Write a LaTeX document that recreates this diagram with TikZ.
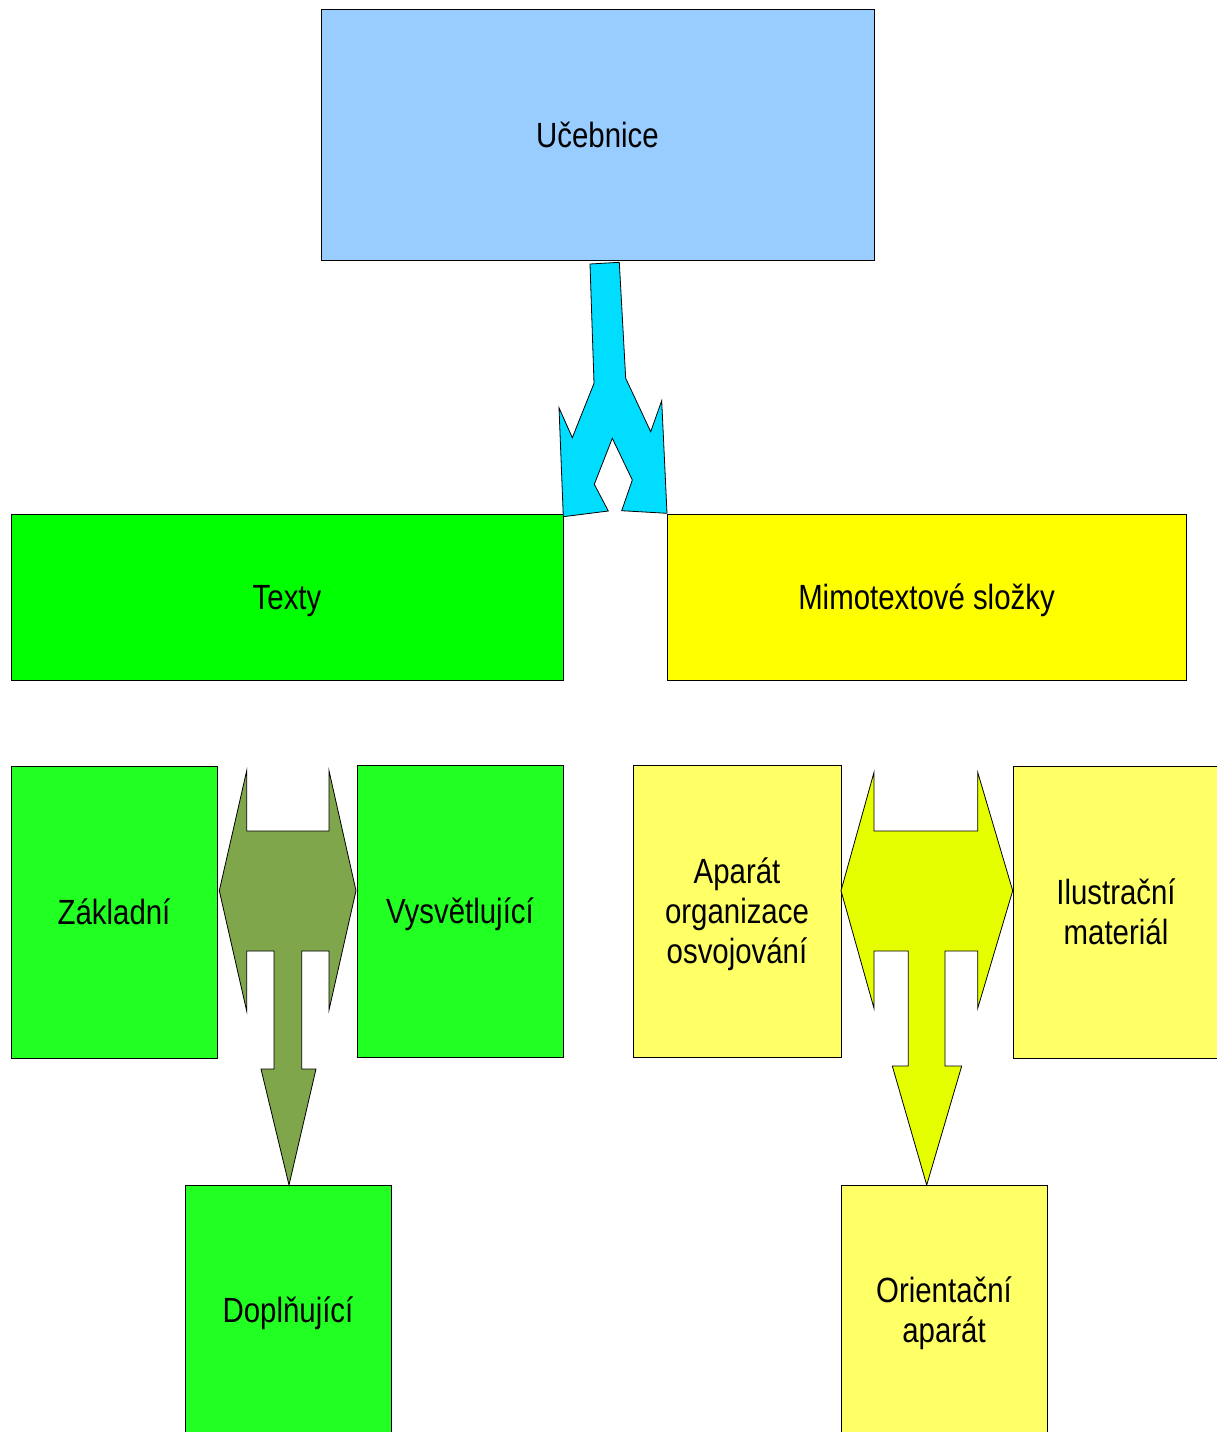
\documentclass[tikz,border=0pt]{standalone}
\usepackage{fontspec}
\setmainfont{Liberation Sans}[FakeStretch=0.84]
\definecolor{blueBox}{HTML}{99CCFF}
\definecolor{greenBig}{HTML}{00FF00}
\definecolor{yellowBig}{HTML}{FFFF00}
\definecolor{greenSmall}{HTML}{22FF22}
\definecolor{yellowSmall}{HTML}{FFFF66}
\definecolor{cyanArrow}{HTML}{00DDFF}
\definecolor{oliveArrow}{HTML}{7FA64A}
\definecolor{limeArrow}{HTML}{E6FF00}
\begin{document}
\begin{tikzpicture}[x=1pt,y=-1pt,
  box/.style={draw=black, line width=0.8pt, inner sep=0pt, align=center,
    text depth=0pt, font=\fontsize{35}{40}\selectfont},
  blockarrow/.style={draw=black, line width=0.8pt, line join=miter}]
\useasboundingbox (0,0) rectangle (1217,1432);
\begin{scope}
\clip (0,0) rectangle (1217,1432);
% top level
\node[box, fill=blueBox, minimum width=553pt, minimum height=251pt] (ucebnice) at (597.5,134.5) {Učebnice};
% second level
\node[box, fill=greenBig, minimum width=552pt, minimum height=166pt] (texty) at (287,597) {Texty};
\node[box, fill=yellowBig, minimum width=519pt, minimum height=166pt] (mimo) at (926.5,597) {Mimotextové složky};
% kinds of texts
\node[box, fill=greenSmall, minimum width=206pt, minimum height=292pt] (zakladni) at (114,912) {Základní};
\node[box, fill=greenSmall, minimum width=206pt, minimum height=292pt] (vysvetlujici) at (460,911) {Vysvětlující};
\node[box, fill=greenSmall, minimum width=206pt, minimum height=249pt] (doplnujici) at (288,1310) {Doplňující};
% non-text components
\node[box, fill=yellowSmall, minimum width=208pt, minimum height=292pt] (aparat) at (737,911) {Aparát\\organizace\\osvojování};
\node[box, fill=yellowSmall, minimum width=206pt, minimum height=292pt] (ilustracni) at (1116,912) {Ilustrační\\materiál};
\node[box, fill=yellowSmall, minimum width=206pt, minimum height=249pt] (orientacni) at (944,1310) {Orientační\\aparát};

% split arrow from the textbook to its two parts
\filldraw[blockarrow, fill=cyanArrow]
  (590,264) -- (619.3,262.3) -- (625.7,378.3) -- (650.7,431.7) -- (661.7,400.7)
  -- (667,513.3) -- (621.7,510.7) -- (632.3,480) -- (612.3,438.3) -- (594.3,484.3)
  -- (608.3,511) -- (563.3,516.7) -- (559,407.7) -- (572.3,437.7) -- (594,383.3) -- cycle;

% three-way arrow between the kinds of texts
\filldraw[blockarrow, fill=oliveArrow]
  (246.7,770.7) -- (246.7,831) -- (329,831) -- (329,770.7) -- (356,890.7)
  -- (329,1010) -- (329,951) -- (301.7,951) -- (301.7,1069) -- (316,1069)
  -- (289,1185) -- (261,1069) -- (274,1069) -- (274,951) -- (246.7,951)
  -- (246.7,1011) -- (219.3,890.7) -- cycle;

% three-way arrow between the non-text components
\filldraw[blockarrow, fill=limeArrow]
  (874,772.3) -- (874,831) -- (977.7,831) -- (977.7,772.3) -- (1012.7,890.7)
  -- (977.7,1008.3) -- (977.7,951) -- (945,951) -- (945,1066) -- (961.7,1066)
  -- (926.7,1185) -- (892.3,1066) -- (908.3,1066) -- (908.3,951) -- (874,951)
  -- (874,1008.3) -- (841,890.7) -- cycle;
\end{scope}
\end{tikzpicture}
\end{document}
